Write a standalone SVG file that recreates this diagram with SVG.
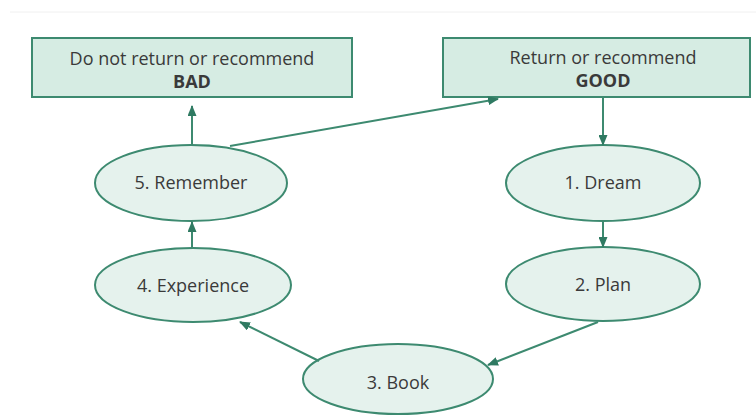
<svg xmlns="http://www.w3.org/2000/svg" width="756" height="416" viewBox="0 0 756 416">
  <style>
    .box { fill: #d6ece3; stroke: #3d8a70; stroke-width: 2; }
    .node { fill: #e5f2ed; stroke: #3d8a70; stroke-width: 2; }
    .lbl { font-family: "Open Sans", "Liberation Sans", sans-serif; font-size: 18px; fill: #3a3a3a; text-anchor: middle; }
    .bold { font-weight: bold; }
    .conn line { stroke: #3d8a70; stroke-width: 2; marker-end: url(#arrow); }
  </style>
  <defs>
    <marker id="arrow" markerUnits="userSpaceOnUse" markerWidth="11" markerHeight="9" refX="10" refY="4.5" orient="auto">
      <path d="M0,0 L11,4.5 L0,9 z" fill="#2f7a62"/>
    </marker>
  </defs>
  <rect width="756" height="416" fill="#ffffff"/>
  <line x1="10" y1="12" x2="756" y2="12" stroke="#f0f0f0" stroke-width="1"/>

  <g id="bad">
    <rect class="box" x="32" y="38" width="320" height="59"/>
    <text class="lbl" x="192" y="65">Do not return or recommend</text>
    <text class="lbl bold" x="192" y="88">BAD</text>
  </g>
  <g id="good">
    <rect class="box" x="443" y="38" width="307" height="59"/>
    <text class="lbl" x="603" y="64">Return or recommend</text>
    <text class="lbl bold" x="603" y="87">GOOD</text>
  </g>
  <g id="remember">
    <ellipse class="node" cx="191" cy="183" rx="96" ry="38"/>
    <text class="lbl" x="191" y="189">5. Remember</text>
  </g>
  <g id="dream">
    <ellipse class="node" cx="603" cy="183" rx="97" ry="38"/>
    <text class="lbl" x="603" y="189">1. Dream</text>
  </g>
  <g id="experience">
    <ellipse class="node" cx="193" cy="285" rx="98" ry="37"/>
    <text class="lbl" x="193" y="292">4. Experience</text>
  </g>
  <g id="plan">
    <ellipse class="node" cx="603" cy="284" rx="97" ry="37"/>
    <text class="lbl" x="603" y="291">2. Plan</text>
  </g>
  <g id="book">
    <ellipse class="node" cx="398" cy="379" rx="95" ry="35"/>
    <text class="lbl" x="398" y="389">3. Book</text>
  </g>

  <g id="connectors" class="conn">
    <line x1="192" y1="145" x2="192" y2="106"/>
    <line x1="230" y1="146" x2="498" y2="99"/>
    <line x1="603" y1="97" x2="603" y2="145"/>
    <line x1="603" y1="221" x2="603" y2="247"/>
    <line x1="598" y1="322" x2="488" y2="365"/>
    <line x1="319" y1="361" x2="240" y2="322"/>
    <line x1="192" y1="248" x2="192" y2="222"/>
  </g>
</svg>
